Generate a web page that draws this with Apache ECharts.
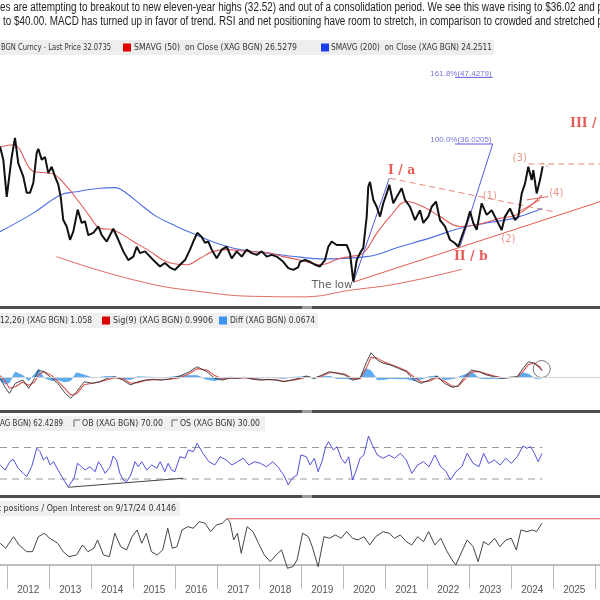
<!DOCTYPE html>
<html><head><meta charset="utf-8">
<script src="https://cdn.jsdelivr.net/npm/echarts@6/dist/echarts.min.js"></script>
<style>html,body{margin:0;padding:0;background:#fff}#c{width:600px;height:600px}</style>
</head><body><div id="c"></div>
<script>
// ---------- axis range / ticks ----------
const X_MIN = 2011.826, X_MAX = 2026.112;
const yearTicks = [2012,2013,2014,2015,2016,2017,2018,2019,2020,2021,2022,2023,2024,2025,2026];
const yearLabels = ['2012','2013','2014','2015','2016','2017','2018','2019','2020','2021','2022','2023','2024','2025'];

// ---------- texts ----------
const headline1 = 'es are attempting to breakout to new eleven-year highs (32.52) and out of a consolidation period. We see this wave rising to $36.02 and p';
const headline2 = 'to $40.00. MACD has turned up in favor of trend. RSI and net positioning have room to stretch, in comparison to crowded and stretched p';

// ---------- price panel ----------
const priceT = [2011.826,2011.905,2011.986,2012.105,2012.183,2012.262,2012.381,2012.462,2012.540,2012.619,
2012.700,2012.738,2012.819,2012.898,2012.976,2013.057,2013.136,2013.214,2013.271,2013.333,
2013.414,2013.493,2013.571,2013.676,2013.771,2013.850,2013.929,2014.048,2014.167,2014.248,
2014.367,2014.524,2014.643,2014.762,2014.881,2015.000,2015.081,2015.160,2015.279,2015.398,
2015.517,2015.636,2015.755,2015.874,2015.993,2016.112,2016.231,2016.350,2016.429,2016.524,
2016.629,2016.707,2016.786,2016.867,2016.986,2017.105,2017.224,2017.343,2017.462,2017.581,
2017.700,2017.819,2017.938,2018.057,2018.176,2018.295,2018.414,2018.571,2018.690,2018.810,
2018.929,2018.969,2019.088,2019.207,2019.326,2019.445,2019.564,2019.643,2019.724,2019.843,
2019.962,2020.081,2020.160,2020.238,2020.319,2020.398,2020.476,2020.557,2020.595,2020.636,
2020.714,2020.795,2020.874,2020.952,2021.033,2021.095,2021.190,2021.271,2021.390,2021.469,
2021.588,2021.707,2021.826,2021.905,2022.024,2022.105,2022.207,2022.302,2022.421,2022.540,
2022.660,2022.738,2022.819,2022.938,2023.017,2023.095,2023.176,2023.295,2023.414,2023.533,
2023.652,2023.771,2023.850,2023.969,2024.088,2024.167,2024.248,2024.326,2024.405,2024.486,
2024.524,2024.605,2024.683,2024.748];
const priceV = [34.9,32.6,26.2,33.1,36.4,32.0,29.7,26.9,26.9,28.6,
33.8,34.5,32.6,33.1,30.3,31.4,29.7,28.3,26.2,22.2,
21.1,18.8,20.2,24.0,21.7,22.0,19.6,20.0,21.1,19.6,
18.5,20.7,18.8,16.8,15.3,15.9,17.6,16.5,16.8,15.9,
15.0,14.2,14.8,14.0,13.6,14.5,15.3,17.1,18.5,20.0,
19.3,18.3,18.5,17.1,15.6,17.1,17.6,15.6,16.8,15.9,
17.1,16.5,16.2,16.8,15.9,16.2,15.9,15.0,13.9,13.6,
14.1,15.0,15.3,15.0,14.5,14.2,15.3,17.6,18.5,17.9,
17.9,17.9,16.5,11.6,15.3,16.5,17.4,22.8,28.0,28.8,
25.7,24.5,22.8,25.1,26.8,28.3,25.1,26.2,27.7,25.7,
24.5,22.2,23.9,21.7,22.8,24.5,25.4,22.2,21.1,18.8,
18.2,17.6,19.3,21.7,23.7,21.7,20.5,25.1,23.1,23.9,
22.2,20.5,22.8,24.2,22.2,22.8,26.8,28.5,31.4,29.1,
30.8,26.8,29.1,31.5];
const sma50T = [2011.826,2012.143,2012.619,2012.857,2013.136,2013.414,2013.731,2013.969,2014.207,2014.524,2015.000,2015.398,2015.795,2016.271,2016.588,2016.905,2017.224,2017.700,2018.176,2018.571,2018.969,2019.445,2019.921,2020.160,2020.476,2020.795,2021.112,2021.510,2021.905,2022.302,2022.779,2023.176,2023.731,2024.129,2024.524,2024.731];
const sma50V = [34.8,35.2,30.6,30.4,30.0,28.0,25.1,22.8,20.8,20.5,18.5,16.8,15.0,14.5,15.6,16.8,17.1,16.8,16.6,15.9,15.3,14.5,15.6,15.9,16.5,19.9,22.8,25.4,24.5,22.8,21.1,21.4,22.5,23.1,25.1,26.5];
const sma200T = [2011.826,2012.619,2013.255,2013.652,2014.207,2014.564,2014.843,2015.238,2015.557,2016.033,2016.510,2016.986,2017.540,2018.176,2018.969,2019.445,2020.557,2021.350,2022.143,2022.779,2023.414,2024.048,2024.731];
const sma200V = [20.2,23.4,26.5,27.1,27.7,27.8,26.8,24.5,22.8,21.1,19.6,18.2,17.1,16.5,15.8,15.5,15.9,17.6,19.3,20.8,21.7,22.5,24.2];

// annotation lines [year, price]
const saucerArc = [[2013.176,15.9],[2015.0,11.9],[2016.588,9.86],[2018.176,9.0],[2018.969,8.95],[2020.238,10.16],[2021.35,11.3],[2022.819,13.7]];
const trendUp = [[2020.238,11.5],[2026.112,25.38]];
const wedgeUpper = [[2024.367,25.68],[2024.881,26.25]];
const wedgeLower = [[2024.167,23.61],[2024.683,25.68]];
const dashedDown = [[2021.112,29.42],[2024.993,23.66]];
const dashedFlat = [[2024.405,31.88],[2026.112,31.88]];
const dashedShort = [[2024.73,32.1],[2024.88,31.4]];
const waveIBlue = [[2020.238,11.42],[2021.095,29.42]];
const fibBlue = [[2022.779,17.62],[2023.557,35.33],[2022.66,35.33]];
const fib161Blue = [[2022.66,46.83],[2023.557,46.83]];

// annotation labels
const waveLabels = [['I / a',2021.39,30.68,'center'],['II / b',2023.036,15.9,'center'],['III / c',2025.40,38.9,'left']];
const subLabels = [['(1)',2023.486,26.36],['(2)',2023.929,18.78],['(3)',2024.2,32.86],['(4)',2025.07,26.83]];
const lowLabel = [['The low',2019.736,10.9]];
const fibLabels = [['100.0%(36.0205)',2023.533,36.02],['161.8%(47.4279)',2023.533,47.4]];

// ---------- MACD panel ----------
const macdT = [2011.83,2011.96,2012.05,2012.19,2012.37,2012.51,2012.65,2012.74,2012.87,2013.06,
2013.20,2013.38,2013.51,2013.65,2013.83,2014.02,2014.20,2014.38,2014.56,2014.75,
2014.93,2015.11,2015.29,2015.48,2015.66,2015.84,2016.11,2016.34,2016.52,2016.75,
2016.94,2017.12,2017.30,2017.48,2017.66,2017.85,2018.03,2018.21,2018.40,2018.58,
2018.76,2018.94,2019.12,2019.31,2019.49,2019.67,2019.85,2020.04,2020.22,2020.40,
2020.54,2020.66,2020.81,2020.95,2021.13,2021.31,2021.50,2021.68,2021.86,2022.04,
2022.23,2022.41,2022.59,2022.73,2022.86,2023.05,2023.23,2023.41,2023.60,2023.78,
2023.96,2024.14,2024.28,2024.41,2024.55,2024.69,2024.73];
const macdV = [-0.09,-1.51,-2.23,-0.8,-0.33,-1.51,-0.09,1.1,0.86,-0.09,
-0.8,-2.23,-2.94,-2.0,-0.57,-0.8,-0.57,-0.09,0.14,-0.33,
-1.04,-0.57,-0.33,-0.23,-0.33,-0.19,0.24,0.86,1.57,0.86,
-0.09,-0.33,0,-0.09,0.06,-0.23,-0.33,-0.23,-0.33,-0.57,
-0.33,-0.09,0.24,-0.09,0.39,0.86,0.63,0.39,-0.33,-0.09,
2.06,3.57,2.53,2.06,1.81,1.34,0.86,-0.33,-0.8,-0.33,
0.24,-0.8,-1.37,-1.19,-0.09,1.1,0.86,0.39,0.14,-0.09,
0.06,0.14,1.34,2.29,2.06,1.3,1.06];
const signalV = [0.3,-0.6,-1.5,-1.3,-0.6,-1.1,-0.6,0.4,0.9,0.3,
-0.5,-1.6,-2.5,-2.3,-1.0,-0.8,-0.6,-0.3,0.0,-0.1,
-0.8,-0.7,-0.4,-0.3,-0.3,-0.25,0.0,0.6,1.3,1.1,
0.3,-0.2,-0.1,-0.05,0.0,-0.1,-0.3,-0.25,-0.3,-0.5,
-0.4,-0.2,0.1,0.0,0.25,0.7,0.7,0.5,-0.1,-0.15,
1.3,2.9,2.8,2.3,1.9,1.5,1.0,0.1,-0.6,-0.5,
0.0,-0.5,-1.2,-1.25,-0.4,0.8,0.9,0.55,0.25,0.0,
0.0,0.1,0.9,1.9,2.1,1.5,0.99];
const diffV = [-0.4,-0.9,-0.7,0.8,0.3,-0.4,0.5,1.2,0.0,-0.4,
-0.3,-0.6,-0.4,0.7,0.4,0.0,0.05,0.2,0.15,-0.2,
-0.25,0.15,0.1,0.05,0.0,0.05,0.25,0.3,0.3,-0.25,
-0.4,-0.15,0.1,0.0,0.05,-0.1,-0.05,0.05,0.0,-0.1,
0.05,0.1,0.15,-0.1,0.15,0.2,-0.1,-0.1,-0.25,0.1,
1.3,1.0,-0.3,-0.25,-0.1,-0.15,-0.15,-0.4,-0.2,0.15,
0.25,-0.3,-0.15,0.05,0.35,0.8,-0.05,-0.15,-0.1,-0.1,
0.05,0.05,0.7,0.5,-0.05,-0.2,0.07];
const macdCircle = [[2024.724,1.24]];

// ---------- RSI panel ----------
const rsiT = [2011.83,2011.95,2012.06,2012.14,2012.26,2012.38,2012.46,2012.58,2012.70,2012.78,
2012.86,2012.94,2013.02,2013.10,2013.21,2013.30,2013.37,2013.45,2013.53,2013.59,
2013.67,2013.77,2013.85,2013.97,2014.09,2014.17,2014.25,2014.33,2014.45,2014.52,
2014.60,2014.68,2014.76,2014.84,2014.94,2015.04,2015.12,2015.20,2015.32,2015.44,
2015.56,2015.64,2015.75,2015.83,2015.91,2015.99,2016.11,2016.23,2016.31,2016.43,
2016.52,2016.66,2016.80,2016.94,2017.07,2017.21,2017.35,2017.48,2017.62,2017.75,
2017.89,2018.03,2018.17,2018.32,2018.44,2018.58,2018.69,2018.78,2018.90,2018.99,
2019.12,2019.21,2019.31,2019.40,2019.49,2019.58,2019.65,2019.76,2019.85,2019.95,
2020.04,2020.13,2020.22,2020.31,2020.40,2020.49,2020.60,2020.69,2020.81,2020.95,
2021.09,2021.22,2021.36,2021.50,2021.63,2021.77,2021.91,2022.04,2022.18,2022.32,
2022.45,2022.55,2022.68,2022.82,2022.95,2023.09,2023.23,2023.34,2023.46,2023.60,
2023.73,2023.87,2024.00,2024.14,2024.28,2024.37,2024.46,2024.55,2024.64,2024.73];
const rsiV = [47.8,41.4,52,55,43.6,37.2,33,45.6,69,64.7,
54.1,58.3,47.8,52,41.4,33,26.6,20.2,26.6,30.9,
49.9,45.6,41.4,45.6,39.3,52,45.6,37.2,45.6,59.2,
54.1,37.2,28.7,26.6,35.1,52,45.6,52,41.4,47.8,
43.6,52,39.3,49.9,41.4,39.3,58.3,56.3,66.8,64.7,
75.3,62.6,52,47.8,58.3,54.1,47.8,52,56.3,47.8,
52,49.9,45.6,52,45.6,35.1,22.4,30.9,35.1,60.5,
58.3,47.8,56.3,39.3,52,71,77.4,66.8,71,56.3,
49.9,58.3,28.7,41.4,56.3,60.5,84.6,73.2,60.5,56.3,
60.5,56.3,62.6,54.1,37.2,47.8,52,45.6,60.5,45.6,
39.3,28.7,39.3,45.6,62.6,49.9,45.6,62.6,49.9,54.1,
47.8,56.3,49.9,58.3,71.9,69,71,62.6,52,62.4];
const rsiOB = [[2011.826,70],[2024.74,70]];
const rsiOS = [[2011.826,30],[2024.74,30]];
const rsiTrend = [[2013.45,19.5],[2016.19,31]];

// ---------- positioning panel ----------
const posT = [2011.83,2011.96,2012.15,2012.28,2012.46,2012.60,2012.74,2012.88,2013.01,2013.20,
2013.33,2013.47,2013.65,2013.79,2013.92,2014.06,2014.15,2014.29,2014.43,2014.56,
2014.70,2014.84,2014.97,2015.09,2015.20,2015.31,2015.43,2015.57,2015.70,2015.82,
2015.93,2016.04,2016.16,2016.30,2016.43,2016.57,2016.71,2016.84,2016.98,2017.12,
2017.23,2017.30,2017.39,2017.48,2017.57,2017.71,2017.85,2017.98,2018.12,2018.26,
2018.40,2018.53,2018.67,2018.80,2018.90,2019.03,2019.17,2019.26,2019.40,2019.54,
2019.67,2019.81,2019.95,2020.08,2020.22,2020.35,2020.49,2020.63,2020.77,2020.95,
2021.09,2021.22,2021.36,2021.50,2021.63,2021.77,2021.91,2022.03,2022.18,2022.32,
2022.45,2022.59,2022.68,2022.82,2022.95,2023.09,2023.21,2023.34,2023.46,2023.60,
2023.73,2023.87,2024.00,2024.12,2024.23,2024.37,2024.51,2024.60,2024.73];
const posV = [0.215,0.165,0.281,0.198,0.131,0.131,0.281,0.315,0.265,0.215,
0.131,0.081,0.098,0.198,0.131,0.165,0.248,0.098,0.081,0.315,
0.181,0.148,0.281,0.348,0.215,0.315,0.131,0.098,0.148,0.365,
0.165,0.181,0.348,0.381,0.365,0.431,0.415,0.331,0.398,0.415,
0.46,0.431,0.248,0.315,0.115,0.381,0.331,0.215,0.098,0.031,
0.098,0.148,-0.035,-0.019,0.048,0.315,0.281,0.181,-0.019,0.281,
0.265,0.298,0.265,0.331,0.265,0.248,0.281,0.198,0.281,0.331,
0.315,0.265,0.298,0.231,0.198,0.281,0.231,0.331,0.198,0.265,
0.148,0.048,-0.002,0.131,0.248,0.181,0.031,0.231,0.198,0.265,
0.181,0.248,0.265,0.148,0.348,0.331,0.348,0.331,0.415];
const posMaxLine = [[2017.23,0.46],[2026.112,0.46]];

// ---------- build ----------
const zip = (t, v) => t.map((x, i) => [x, v[i]]);
const HEAD_FONT = '"Liberation Sans", Arial, sans-serif';
const LEG_FONT = '"DejaVu Sans", sans-serif';
const chart = echarts.init(document.getElementById('c'));

const grids = [
  {left:0, right:0, top:59, height:248},
  {left:0, right:0, top:311, height:99},
  {left:0, right:0, top:413, height:82},
  {left:0, right:0, top:498, height:79}
];
const xAxes = grids.map((g, i) => ({
  type:'value', gridIndex:i, min:X_MIN, max:X_MAX, show: i === 3,
  axisLine:{show:true, lineStyle:{color:'#a8a8a8', width:1.5}},
  axisTick: i === 3 ? {show:true, customValues:yearTicks, length:24, lineStyle:{color:'#b8b8b8', width:1}} : {show:false},
  axisLabel: i === 3 ? {show:true, customValues:yearLabels.map(s => +s + 0.5),
      formatter: v => String(Math.floor(v)), color:'#555', fontSize:10, margin:8, fontFamily:HEAD_FONT} : {show:false},
  splitLine:{show:false}
}));
const yRanges = [[7.2,50],[-4.61,9.53],[9.7,113.8],[-0.1224,0.6676]];
const yAxes = yRanges.map((r, i) => ({type:'value', gridIndex:i, min:r[0], max:r[1], show:false, splitLine:{show:false}}));

function ln(data, gi, color, width, extra) {
  return Object.assign({type:'line', xAxisIndex:gi, yAxisIndex:gi, data, showSymbol:false, symbol:'none',
    lineStyle:{color, width}, itemStyle:{color}, silent:true, animation:false}, extra || {});
}
function labels(list, gi, style) {
  return {type:'scatter', xAxisIndex:gi, yAxisIndex:gi, symbolSize:0, silent:true, animation:false,
    data: list.map(d => ({value:[d[1], d[2]], label:Object.assign({}, style, {formatter:d[0], align:d[3] || style.align || 'center'})})),
    label:{show:true, position:'inside'}};
}

const series = [
  ln(saucerArc, 0, '#e46a60', 1, {smooth:0.5}),
  ln(trendUp, 0, '#e35a50', 1),
  ln(wedgeUpper, 0, '#e46a60', 1),
  ln(wedgeLower, 0, '#e46a60', 1),
  ln(dashedDown, 0, '#e8887c', 1, {lineStyle:{color:'#e8887c', width:1, type:[6,4]}}),
  ln(dashedFlat, 0, '#e8887c', 1, {lineStyle:{color:'#e8887c', width:1, type:[6,4]}}),
  ln(dashedShort, 0, '#e8887c', 1, {lineStyle:{color:'#e8887c', width:1, type:[3,2]}}),
  ln(zip(sma200T, sma200V), 0, '#4f6fe3', 1.1, {smooth:0.4}),
  ln(zip(sma50T, sma50V), 0, '#e25b5b', 1.1, {smooth:0.4}),
  ln(waveIBlue, 0, '#5a5ae0', 1),
  ln(fibBlue, 0, '#5a5ae0', 1),
  ln(fib161Blue, 0, '#5a5ae0', 1),
  ln(zip(priceT, priceV), 0, '#111', 2, {z:4}),
  labels(waveLabels, 0, {color:'#e3342f', fontSize:12.5, fontWeight:'bold', fontFamily:'"DejaVu Serif",serif'}),
  labels(subLabels, 0, {color:'#e67a6a', fontSize:10, fontFamily:'"DejaVu Sans",sans-serif'}),
  labels(lowLabel, 0, {color:'#333', fontSize:10.5, fontFamily:'"DejaVu Sans",sans-serif'}),
  labels(fibLabels, 0, {color:'#5050cc', fontSize:8, fontFamily:'"Liberation Sans",sans-serif', align:'right'}),
  // MACD
  ln(zip(macdT, diffV), 1, '#3f9cf0', 0.6, {areaStyle:{color:'#4aa4f2', opacity:0.9},
     markLine:{silent:true, symbol:'none', label:{show:false}, lineStyle:{color:'#d4d4d4', type:'solid', width:1}, data:[{yAxis:0}]}}),
  ln(zip(macdT, signalV), 1, '#dc5050', 1.1),
  ln(zip(macdT, macdV), 1, '#333', 0.9),
  {type:'scatter', xAxisIndex:1, yAxisIndex:1, data:macdCircle, symbol:'circle', symbolSize:17, silent:true,
    itemStyle:{color:'rgba(0,0,0,0)', borderColor:'#555', borderWidth:1}},
  // RSI
  ln(rsiOB, 2, '#9a9a9a', 1, {lineStyle:{color:'#9a9a9a', width:1, type:[7,5]}}),
  ln(rsiOS, 2, '#9a9a9a', 1, {lineStyle:{color:'#9a9a9a', width:1, type:[7,5]}}),
  ln(rsiTrend, 2, '#444', 1),
  ln(zip(rsiT, rsiV), 2, '#5050dc', 1),
  // positioning
  ln(posMaxLine, 3, '#e35a5a', 1.2),
  ln(zip(posT, posV), 3, '#444', 1)
];

// text helper: squeeze text horizontally so it spans the width seen in the reference
const mctx = document.createElement('canvas').getContext('2d');
const G = [];
function txt(x, y, text, size, color, family, width) {
  mctx.font = size + 'px ' + family;
  const w = mctx.measureText(text).width;
  const s = width ? width / w : 1;
  G.push({type:'text', x, y, z:50, silent:true, scaleX:s, style:{text, fontSize:size, fontFamily:family,
    fill:color, textVerticalAlign:'middle', verticalAlign:'middle'}});
}
function rect(x, y, w, h, fill, z) { G.push({type:'rect', z:z || 40, silent:true, shape:{x, y, width:w, height:h}, style:{fill}}); }

// headline
txt(0, 8, headline1, 12.5, '#222', HEAD_FONT, 603);
txt(3, 22, headline2, 12.5, '#222', HEAD_FONT, 600);
// main legend
rect(0, 40, 494, 15, '#eeeeee');
txt(1, 47.5, 'BGN Curncy - Last Price 32.0735', 9.5, '#333', LEG_FONT, 110);
rect(123, 43.5, 8, 8, '#e00000', 45);
txt(134, 47.5, 'SMAVG (50)  on Close (XAG BGN) 26.5279', 9.5, '#333', LEG_FONT, 163);
rect(321, 43.5, 8, 8, '#1c3cf0', 45);
txt(331, 47.5, 'SMAVG (200)  on Close (XAG BGN) 24.2511', 9.5, '#333', LEG_FONT, 161);
// separators
function sep(y) { rect(0, y, 600, 3, '#4d4d4d', 60); rect(302, y, 10, 3, '#9a9a9a', 61); }
sep(306); sep(410); sep(495);
// MACD legend
rect(0, 313, 318, 15, '#f0f0f0');
txt(0, 320.5, '12,26) (XAG BGN) 1.058', 9.5, '#333', LEG_FONT, 92);
rect(102, 316.5, 8, 8, '#e00000', 45);
txt(113, 320.5, 'Sig(9) (XAG BGN) 0.9906', 9.5, '#333', LEG_FONT, 100);
rect(219, 316.5, 8, 8, '#3a93f0', 45);
txt(230, 320.5, 'Diff (XAG BGN) 0.0674', 9.5, '#333', LEG_FONT, 85);
// RSI legend
rect(0, 416, 265, 15, '#f0f0f0');
txt(0, 423.5, 'AG BGN) 62.4289', 9.5, '#333', LEG_FONT, 63);
G.push({type:'polyline', z:45, silent:true, shape:{points:[[74,427],[74,420],[80,420]]}, style:{stroke:'#666', lineWidth:1, fill:null}});
txt(82, 423.5, 'OB (XAG BGN) 70.00', 9.5, '#333', LEG_FONT, 81);
G.push({type:'polyline', z:45, silent:true, shape:{points:[[172,427],[172,420],[178,420]]}, style:{stroke:'#666', lineWidth:1, fill:null}});
txt(180, 423.5, 'OS (XAG BGN) 30.00', 9.5, '#333', LEG_FONT, 80);
// positioning legend
rect(0, 501, 180, 15, '#f0f0f0');
txt(-2, 508.5, 't positions / Open Interest on 9/17/24 0.4146', 9.5, '#333', LEG_FONT, 178);

chart.setOption({
  animation:false, backgroundColor:'#fff',
  grid:grids, xAxis:xAxes, yAxis:yAxes, series, graphic:G
});
</script></body></html>
